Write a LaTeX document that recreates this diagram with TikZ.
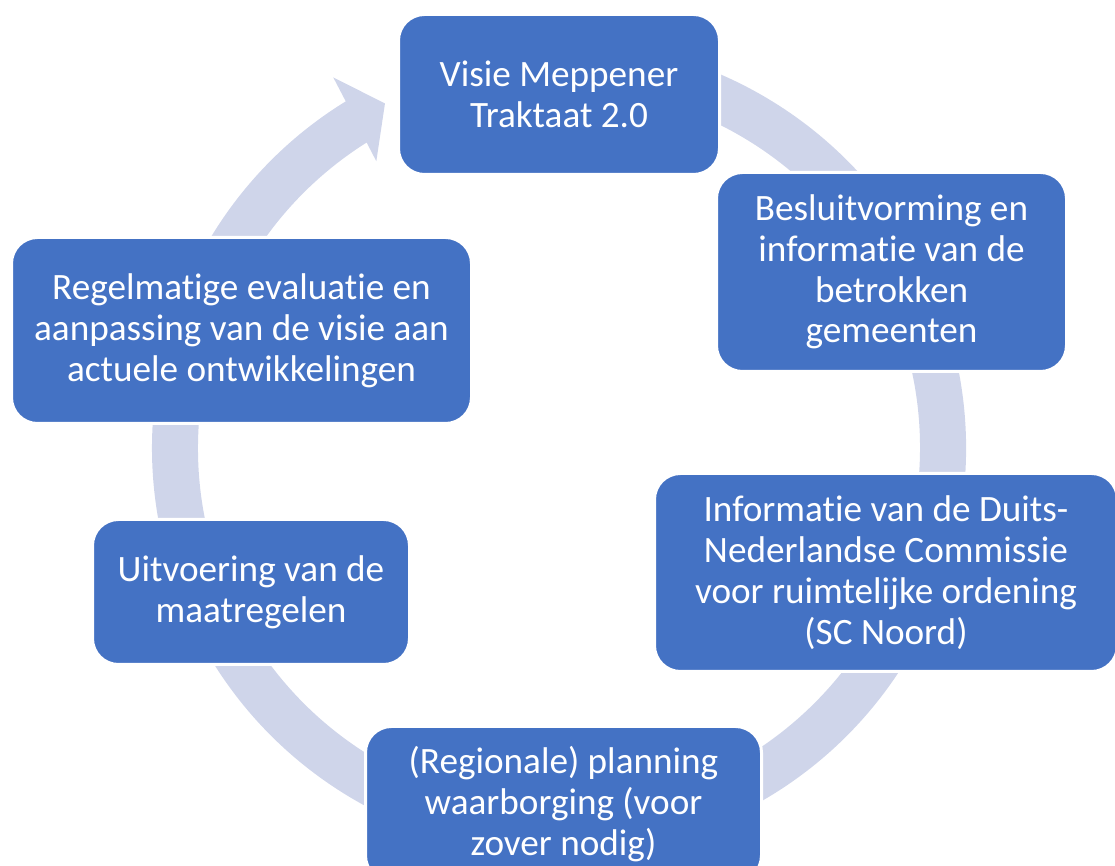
\documentclass[tikz,border=0pt]{standalone}
\usepackage{fontspec}
\setmainfont[Ligatures=NoCommon]{Carlito}
\usepackage{tikz}
\usetikzlibrary{positioning}

\definecolor{boxblue}{HTML}{4472C4}
\definecolor{ringgrey}{HTML}{CFD5EA}

\begin{document}
\begin{tikzpicture}[
            x=0.5pt,y=0.5pt,
            stap/.style={draw=white,line width=1.5pt,fill=boxblue,rounded corners=13pt,
              text=white,align=center,inner sep=0pt,
              font=\fontsize{18.6pt}{20.4pt}\selectfont},
            ring/.style={fill=ringgrey}
          ]
          \useasboundingbox (0,0) rectangle (1115,866);

          %cycle arrow
          \fill[ring,shift={(559,418)}] (105:407) arc[start angle=105,end angle=-238.4,radius=407]
            -- (-238.65:434) -- (-243.2:386) -- (-237.5:340) -- (-237.8:361)
            arc[start angle=-237.8,end angle=105,radius=361] -- cycle;

          %steps
          \node[stap,minimum width=160.5pt,minimum height=80pt] (visie) at (559,771.5)
            {Visie Meppener\\Traktaat 2.0};
          \node[stap,minimum width=175pt,minimum height=99.5pt] (besluit) at (891.5,594)
            {Besluitvorming en\\informatie van de\\betrokken\\gemeenten};
          \node[stap,minimum width=231.5pt,minimum height=99pt] (commissie) at (886,293.5)
            {Informatie van de Duits-\\Nederlandse Commissie\\voor ruimtelijke ordening\\(SC Noord)};
          \node[stap,minimum width=198pt,minimum height=77.5pt] (planning) at (563.5,62)
            {(Regionale) planning\\waarborging (voor\\zover nodig)};
          \node[stap,minimum width=158.5pt,minimum height=72.5pt] (uitvoering) at (251,274)
            {Uitvoering van de\\maatregelen};
          \node[stap,minimum width=230pt,minimum height=93pt] (evaluatie) at (241.5,535.5)
            {Regelmatige evaluatie en\\aanpassing van de visie aan\\actuele ontwikkelingen};

      \end{tikzpicture}
\end{document}
